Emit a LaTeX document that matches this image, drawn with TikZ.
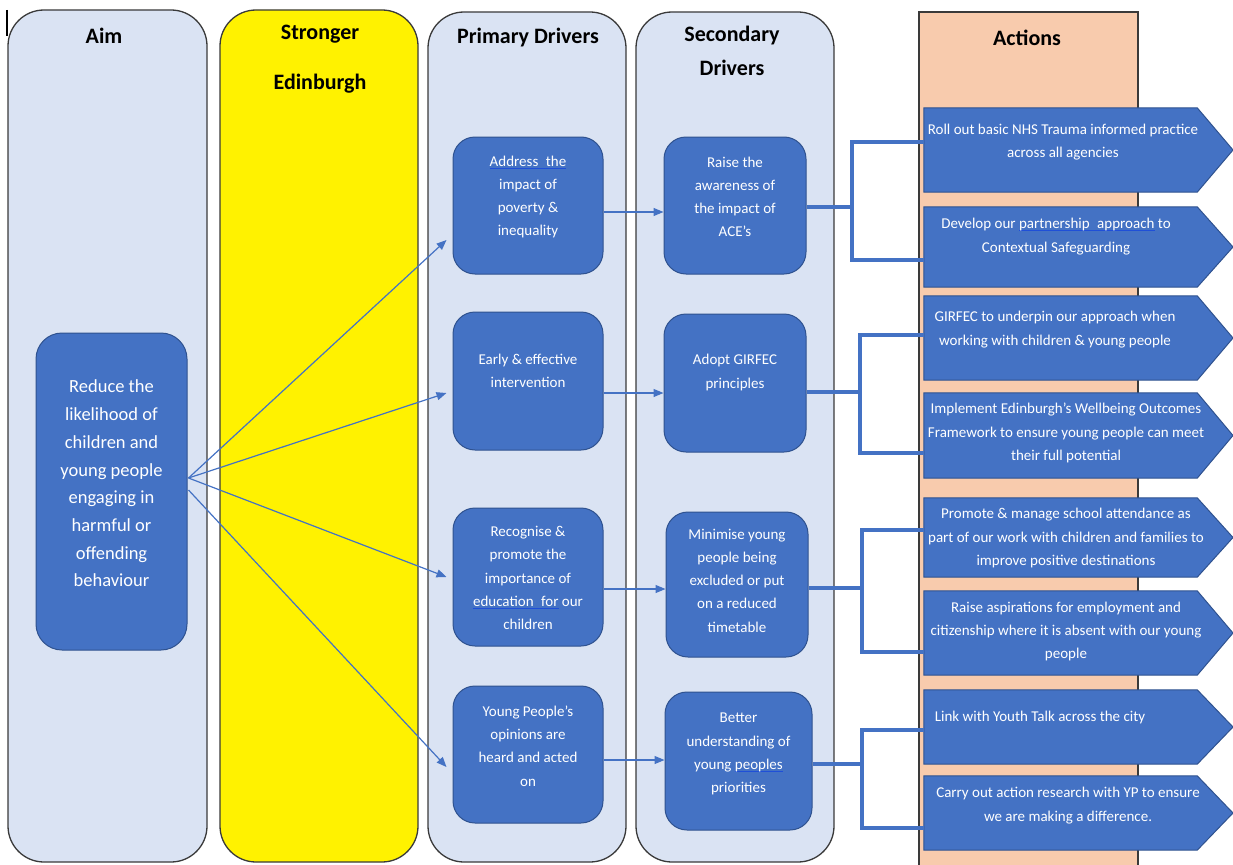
\documentclass[tikz,border=0pt]{standalone}
\usepackage{fontspec}
\setmainfont{Carlito}
\usetikzlibrary{arrows.meta,calc}
\definecolor{boxblue}{HTML}{4472C4}
\definecolor{boxedge}{HTML}{2F528F}
\definecolor{colfill}{HTML}{DAE3F3}
\definecolor{peach}{HTML}{F8CBAD}
\definecolor{coledge}{HTML}{3A3A3A}
\definecolor{ulcol}{HTML}{1F4FD8}
\newsavebox\ulbox
\newcommand\bul[1]{\sbox\ulbox{#1}\rlap{\textcolor{ulcol}{\rule[-2.5pt]{\wd\ulbox}{1.2pt}}}\usebox\ulbox}
\begin{document}
\begin{tikzpicture}[x=1pt,y=-1pt,
  column/.style={draw=coledge,line width=1.3pt,rounded corners=36pt},
  hdr/.style={font=\fontsize{22}{26}\selectfont\bfseries,align=center,inner sep=0pt,text=black},
  bluebox/.style={draw=boxedge,line width=1pt,fill=boxblue,rounded corners=22pt,inner sep=0pt},
  btext/.style={text=white,align=center,inner sep=0pt,font=\fontsize{15}{23.2}\selectfont},
  actbody/.style={draw=none,inner sep=0pt,minimum width=273pt},
  actshape/.style={draw=boxedge,line width=1pt,fill=boxblue},
  bracket/.style={draw=boxblue,line width=3.2pt},
  thinarrow/.style={draw=boxblue,line width=1.2pt,-{Triangle[length=10pt,width=8pt]}}
]
\useasboundingbox (0,0) rectangle (1233,864);
% cursor mark
\draw[line width=1.2pt,black] (7,10) -- (7,36);
% columns
\path[column,fill=colfill] (8,10) rectangle (207,862);
\path[column,fill=yellow] (220,10) rectangle (418,862);
\path[column,fill=colfill] (428,12) rectangle (626,862);
\path[column,fill=colfill] (636,12) rectangle (834,862);
\path[draw=coledge,line width=1.3pt,fill=peach] (919,12) rectangle (1138,880);
% headers
\node[hdr] (haim) at (104,36) {Aim};
\node[hdr,font=\fontsize{22}{50}\selectfont\bfseries] (hstr) at (320,59) {Stronger\\Edinburgh};
\node[hdr] (hprim) at (528,38) {Primary Drivers};
\node[hdr,font=\fontsize{22}{34}\selectfont\bfseries] (hsec) at (732,51) {Secondary\\Drivers};
\node[hdr] (hact) at (1027,38) {Actions};
% aim box
\node[bluebox,rounded corners=26pt,minimum width=151pt,minimum height=317pt] (aim) at (111.5,491.5) {};
\node[btext,font=\fontsize{18.5}{27.7}\selectfont] (aimt) at ($(aim.center)+(0,-8)$) {Reduce the\\likelihood of\\children and\\young people\\engaging in\\harmful or\\offending\\behaviour};
% primary drivers
\node[bluebox,minimum width=150pt,minimum height=137pt] (p1) at (528,205.5) {};
\node[bluebox,minimum width=150pt,minimum height=138pt] (p2) at (528,381) {};
\node[bluebox,minimum width=150pt,minimum height=138pt] (p3) at (528,577) {};
\node[bluebox,minimum width=150pt,minimum height=137pt] (p4) at (528,754.5) {};
\node[btext] (p1t) at ($(p1.center)+(0,-8.5)$) {\bul{Address\enspace the}\\impact of\\poverty \&\\inequality};
\node[btext] (p2t) at ($(p2.center)+(0,-10.5)$) {Early \& effective\\intervention};
\node[btext] (p3t) at ($(p3.center)+(0,1)$) {Recognise \&\\promote the\\importance of\\\bul{education\enspace for} our\\children};
\node[btext] (p4t) at ($(p4.center)+(0,-8.5)$) {Young People’s\\opinions are\\heard and acted\\on};
% secondary drivers
\node[bluebox,minimum width=142pt,minimum height=137pt] (s1) at (735,205.5) {};
\node[bluebox,minimum width=142pt,minimum height=138pt] (s2) at (735,383) {};
\node[bluebox,minimum width=142pt,minimum height=145pt] (s3) at (737,584.5) {};
\node[bluebox,minimum width=147pt,minimum height=138pt] (s4) at (738.5,761) {};
\node[btext] (s1t) at ($(s1.center)+(0,-8.5)$) {Raise the\\awareness of\\the impact of\\ACE’s};
\node[btext] (s2t) at ($(s2.center)+(0,-10.5)$) {Adopt GIRFEC\\principles};
\node[btext] (s3t) at ($(s3.center)+(0,-4)$) {Minimise young\\people being\\excluded or put\\on a reduced\\timetable};
\node[btext] (s4t) at ($(s4.center)+(0,-7)$) {Better\\understanding of\\young \bul{peoples}\\priorities};
% actions
\node[actbody,minimum height=84pt] (a1) at (1060.5,150) {};
\node[actbody,minimum height=80pt] (a2) at (1060.5,247) {};
\node[actbody,minimum height=84pt] (a3) at (1060.5,338) {};
\node[actbody,minimum height=85pt] (a4) at (1060.5,435.5) {};
\node[actbody,minimum height=79pt] (a5) at (1060.5,537.5) {};
\node[actbody,minimum height=84pt] (a6) at (1060.5,633) {};
\node[actbody,minimum height=74pt] (a7) at (1060.5,727) {};
\node[actbody,minimum height=74pt] (a8) at (1060.5,813) {};
\foreach \a in {a1,a2,a3,a4,a5,a6,a7,a8}{
  \path[actshape] (\a.north west) -- (\a.north east) -- (\a.east -| 1233,0) -- (\a.south east) -- (\a.south west) -- cycle;
}
\node[btext] (a1t) at (1063,142) {Roll out basic NHS Trauma informed practice\\across all agencies};
\node[btext] (a2t) at (1056,236.5) {Develop our \bul{partnership\enspace approach} to\\Contextual Safeguarding};
\node[btext] (a3t) at (1055,329.5) {GIRFEC to underpin our approach when\\working with children \& young people};
\node[btext] (a4t) at (1066,433) {Implement Edinburgh’s Wellbeing Outcomes\\Framework to ensure young people can meet\\their full potential};
\node[btext] (a5t) at (1066,538) {Promote \& manage school attendance as\\part of our work with children and families to\\improve positive destinations};
\node[btext] (a6t) at (1066,631.5) {Raise aspirations for employment and\\citizenship where it is absent with our young\\people};
\node[btext] (a7t) at (1040,717) {Link with Youth Talk across the city};
\node[btext] (a8t) at (1068,805.5) {Carry out action research with YP to ensure\\we are making a difference.};
% aim arrows
\draw[thinarrow] ($(aim.east)+(1,-13.5)$) -- ($(p1.west)+(-6,34.5)$);
\draw[thinarrow] ($(aim.east)+(1,-13.5)$) -- ($(p2.west)+(-6,12)$);
\draw[thinarrow] ($(aim.east)+(1,-13.5)$) -- ($(p3.west)+(-6,0)$);
\draw[thinarrow] ($(aim.east)+(1,-1.5)$) -- ($(p4.west)+(-6,12.5)$);
% primary -> secondary
\draw[thinarrow] ($(p1.east)+(0,6.5)$) -- ($(s1.west)+(0,6.5)$);
\draw[thinarrow] ($(p2.east)+(0,12)$) -- ($(s2.west)+(0,10)$);
\draw[thinarrow] ($(p3.east)+(0,12)$) -- ($(s3.west)+(0,4.5)$);
\draw[thinarrow] ($(p4.east)+(0,5.5)$) -- ($(s4.west)+(0,-1)$);
% brackets
\draw[bracket] ($(s1.east)+(0,1.5)$) -- ($(s1.east -| 852,0)+(0,1.5)$);
\draw[bracket] (a1.west |- 0,142) -- (852,142) -- (852,260) -- (a2.west |- 0,260);
\draw[bracket] ($(s2.east)+(0,9)$) -- ($(s2.east -| 860,0)+(0,9)$);
\draw[bracket] (a3.west |- 0,335) -- (860,335) -- (860,453) -- (a4.west |- 0,453);
\draw[bracket] ($(s3.east)+(0,3.5)$) -- ($(s3.east -| 862,0)+(0,3.5)$);
\draw[bracket] (a5.west |- 0,530) -- (862,530) -- (862,652) -- (a6.west |- 0,652);
\draw[bracket] ($(s4.east)+(0,3)$) -- ($(s4.east -| 862,0)+(0,3)$);
\draw[bracket] (a7.west |- 0,730) -- (862,730) -- (862,828) -- (a8.west |- 0,828);
\end{tikzpicture}
\end{document}
